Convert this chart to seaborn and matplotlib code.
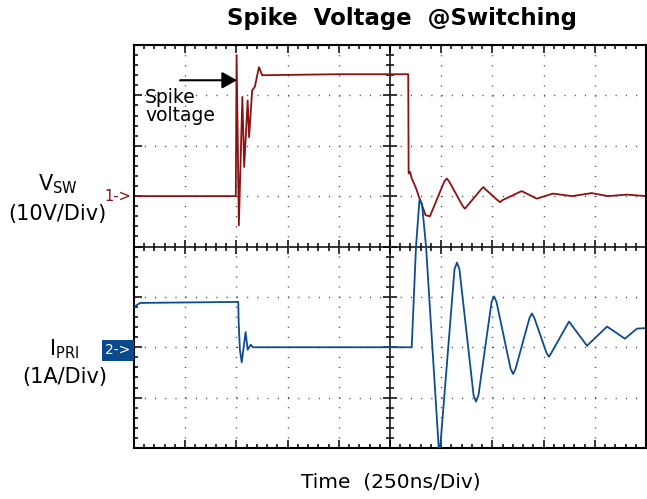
import matplotlib
matplotlib.use('Agg')
import matplotlib.pyplot as plt
import seaborn as sns
from matplotlib.ticker import MultipleLocator

# ================= data (read from the scope shot) =================
# time base 250 ns/div, 10 div; CH1 Vsw 10 V/div, CH2 Ipri 1 A/div
time_vsw_ns = [0, 497, 501, 512, 529, 538, 555, 562, 577, 590, 610, 626, 1000, 1339,
               1341, 1348, 1356, 1375, 1392, 1424, 1445, 1515, 1527, 1539, 1604, 1616,
               1628, 1694, 1706, 1718, 1775, 1787, 1799, 1893, 1966, 2046, 2139, 2235,
               2314, 2406, 2500]
vsw_volts = [0, 0, 28, -5.8, 19.7, 5.8, 19, 11.7, 21, 21.7, 25.6, 24, 24.2, 24.2,
             4.5, 4.8, 3.5, 1.8, -0.2, -3.8, -4.0, 2.9, 3.5, 2.9, -1.9, -2.5,
             -1.9, 1.3, 1.8, 1.3, -0.8, -1.2, -0.8, 1.0, -0.5, 0.5, 0, 0.6,
             0, 0.3, 0]

time_ipri_ns = [0, 30, 509, 511, 517, 526, 545, 555, 570, 581, 1356, 1377, 1394, 1406,
                1426, 1491, 1565, 1577, 1589, 1658, 1670, 1682, 1746, 1758, 1770, 1839,
                1851, 1863, 1931, 1943, 1955, 2014, 2026, 2038, 2124, 2212, 2310, 2397,
                2456, 2500]
ipri_amps = [0.8, 0.88, 0.9, 0.5, -0.05, -0.3, 0.3, -0.05, 0.05, 0, 0, 2.0, 2.93, 2.85,
             2.0, -2.2, 1.55, 1.68, 1.55, -0.95, -1.08, -0.95, 0.9, 1.01, 0.9, -0.43,
             -0.53, -0.43, 0.58, 0.67, 0.58, -0.11, -0.19, -0.11, 0.51, 0.03, 0.41, 0.17,
             0.37, 0.38]

VSW_COLOR = '#8b1212'
IPRI_COLOR = '#0f4c8f'
W, H = 647, 499


def fpos(x, y):
    """pixel position -> figure fraction"""
    return x / W, 1 - y / H


plt.rcParams['lines.scale_dashes'] = False
fig = plt.figure(figsize=(W / 100, H / 100), dpi=100)
pos = [134 / W, 51 / H, 512 / W, 403 / H]

# center cross with ticks
ax_c = fig.add_axes(pos)
ax_c.set_xlim(0, 2500)
ax_c.set_ylim(-50, 30)
for s in ['top', 'right']:
    ax_c.spines[s].set_visible(False)
ax_c.spines['left'].set_position(('data', 1250))
ax_c.spines['bottom'].set_position(('data', -10))
for s in ['left', 'bottom']:
    ax_c.spines[s].set_linewidth(1.1)
ax_c.xaxis.set_major_locator(MultipleLocator(250))
ax_c.xaxis.set_minor_locator(MultipleLocator(50))
ax_c.yaxis.set_major_locator(MultipleLocator(10))
ax_c.yaxis.set_minor_locator(MultipleLocator(2))
ax_c.tick_params(which='both', direction='inout', labelbottom=False, labelleft=False, width=1.1)
ax_c.tick_params(which='major', length=10)
ax_c.tick_params(which='minor', length=6)

# frame, grid and CH1
ax = fig.add_axes(pos)
ax.patch.set_alpha(0)
ax.set_xlim(0, 2500)
ax.set_ylim(-50, 30)
ax.xaxis.set_major_locator(MultipleLocator(250))
ax.xaxis.set_minor_locator(MultipleLocator(50))
ax.yaxis.set_major_locator(MultipleLocator(10))
ax.yaxis.set_minor_locator(MultipleLocator(2))
ax.tick_params(which='both', direction='in', top=True, right=True,
               labelbottom=False, labelleft=False, width=1.1)
ax.tick_params(which='major', length=6)
ax.tick_params(which='minor', length=3)
for s in ax.spines.values():
    s.set_linewidth(1.5)
ax.grid(axis='x', which='major', color='#444444', lw=1.0, linestyle=(0, (0.8, 6.44)))
ax.grid(axis='y', which='major', color='#444444', lw=1.0, linestyle=(0, (0.8, 6.57)))

sns.lineplot(x=time_vsw_ns, y=vsw_volts, ax=ax, color=VSW_COLOR, lw=1.3,
             estimator=None, sort=False)
ax.set_xlabel('')
ax.set_ylabel('')

# CH2 on its own scale
ax_i = ax.twinx()
ax_i.set_ylim(-2, 6)
ax_i.set_yticks([])
for s in ax_i.spines.values():
    s.set_visible(False)
sns.lineplot(x=time_ipri_ns, y=ipri_amps, ax=ax_i, color=IPRI_COLOR, lw=1.3,
             estimator=None, sort=False)
ax_i.set_ylabel('')

# channel markers
ax.annotate('1->', xy=(0, 0), xycoords=('axes fraction', 'data'), xytext=(-2, 0),
            textcoords='offset points', ha='right', va='center', fontsize=10.5,
            color=VSW_COLOR, annotation_clip=False)
ax_i.annotate('2->', xy=(0, 0), xycoords=('axes fraction', 'data'), xytext=(-2.5, -2),
              textcoords='offset points', ha='right', va='center', fontsize=10,
              color='white', annotation_clip=False,
              bbox=dict(boxstyle='square,pad=0.25', fc='#0a4a8c', ec='none'))

# spike annotation
ax.annotate('', xy=(503, 23.0), xytext=(225, 23.0),
            arrowprops=dict(arrowstyle='-|>,head_length=0.45,head_width=0.25',
                            color='black', lw=1.5, mutation_scale=20, shrinkA=0, shrinkB=0))
fig.text(*fpos(145, 103), 'Spike', fontsize=13.5, va='baseline', ha='left')
fig.text(*fpos(145, 121), 'voltage', fontsize=13.5, va='baseline', ha='left')

# titles / labels
fig.text(*fpos(402, 25), 'Spike  Voltage  @Switching', fontsize=16.5, fontweight='bold',
         ha='center', va='baseline')
fig.text(*fpos(391, 487.5), 'Time  (250ns/Div)', fontsize=14.5, ha='center', va='baseline')
fig.text(*fpos(57.5, 190), r'V$_{\mathregular{SW}}$', fontsize=15, ha='center', va='baseline')
fig.text(*fpos(57.5, 220), '(10V/Div)', fontsize=15, ha='center', va='baseline')
fig.text(*fpos(64.5, 355), r'I$_{\mathregular{PRI}}$', fontsize=15, ha='center', va='baseline')
fig.text(*fpos(64.5, 383), '(1A/Div)', fontsize=15, ha='center', va='baseline')

fig.savefig('out.png', dpi=100)
